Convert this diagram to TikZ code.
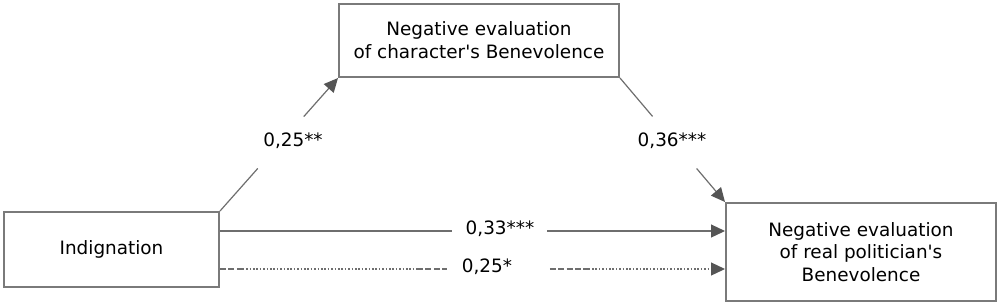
\documentclass[tikz,border=0pt]{standalone}
\usepackage{fontspec}
\setmainfont{DejaVu Sans}
\usetikzlibrary{arrows.meta,calc}
\definecolor{boxgray}{HTML}{7A7A7A}
\definecolor{linegray}{HTML}{6E6E6E}
\definecolor{tipgray}{HTML}{555555}
\begin{document}
\begin{tikzpicture}[x=0.5pt,y=-0.5pt,
  box/.style={draw=boxgray,line width=1pt,rectangle,align=center,inner sep=0pt,
    font=\fontsize{9.2pt}{11.4pt}\selectfont},
  conn/.style={draw=linegray,line width=0.6pt},
  tipend/.style={-{Triangle[length=7pt,width=6.5pt,fill=tipgray,color=tipgray]}},
  dotline/.style={dash pattern=on 0.8pt off 0.9pt},
  dashline/.style={dash pattern=on 3pt off 1.2pt},
  lbl/.style={font=\fontsize{9.2pt}{11pt}\selectfont,inner sep=0pt}]
\useasboundingbox (0,0) rectangle (1000,306);
\node[box,minimum width=140pt,minimum height=36.5pt] (cb) at (479,40.5)
  {Negative evaluation\\of character\textquotesingle s Benevolence};
\node[box,minimum width=107.5pt,minimum height=37.5pt] (ind) at (111.5,249.5)
  {Indignation};
\node[box,minimum width=135pt,minimum height=49pt] (rp) at (861,252)
  {Negative evaluation\\of real politician\textquotesingle s\\Benevolence};
\coordinate (ys) at (0,231);
\coordinate (yd) at (0,269);
% left diagonal
\path (ind.north east) -- (cb.south west)
  coordinate[pos=0.32] (l1) coordinate[pos=0.71] (l2);
\draw[conn] (ind.north east) -- (l1);
\draw[conn,tipend] (l2) -- (cb.south west);
\node[lbl] (la) at (293,141) {0,25**};
% right diagonal
\path (cb.south east) -- (rp.north west)
  coordinate[pos=0.31] (r1) coordinate[pos=0.73] (r2);
\draw[conn] (cb.south east) -- (r1);
\draw[conn,tipend] (r2) -- (rp.north west);
\node[lbl] (lb) at (672,141) {0,36***};
% solid horizontal
\path (ind.east |- ys) -- (rp.west |- ys)
  coordinate[pos=0.46] (s1) coordinate[pos=0.648] (s2);
\draw[conn] (ind.east |- ys) -- (s1);
\draw[conn,tipend] (s2) -- (rp.west |- ys);
\node[lbl] (lc) at (500,229) {0,33***};
% dashed horizontal
\path (ind.east |- yd) -- (rp.west |- yd)
  coordinate[pos=0.045] (d0) coordinate[pos=0.39] (d0b)
  coordinate[pos=0.45] (d1) coordinate[pos=0.653] (d2)
  coordinate[pos=0.73] (d3);
\draw[conn,dashline] (ind.east |- yd) -- (d0);
\draw[conn,dotline] (d0) -- (d0b);
\draw[conn,dashline] (d0b) -- (d1);
\draw[conn,dashline] (d2) -- (d3);
\draw[conn,dotline,tipend] (d3) -- (rp.west |- yd);
\node[lbl] (ld) at (487,267) {0,25*};
\end{tikzpicture}
\end{document}
